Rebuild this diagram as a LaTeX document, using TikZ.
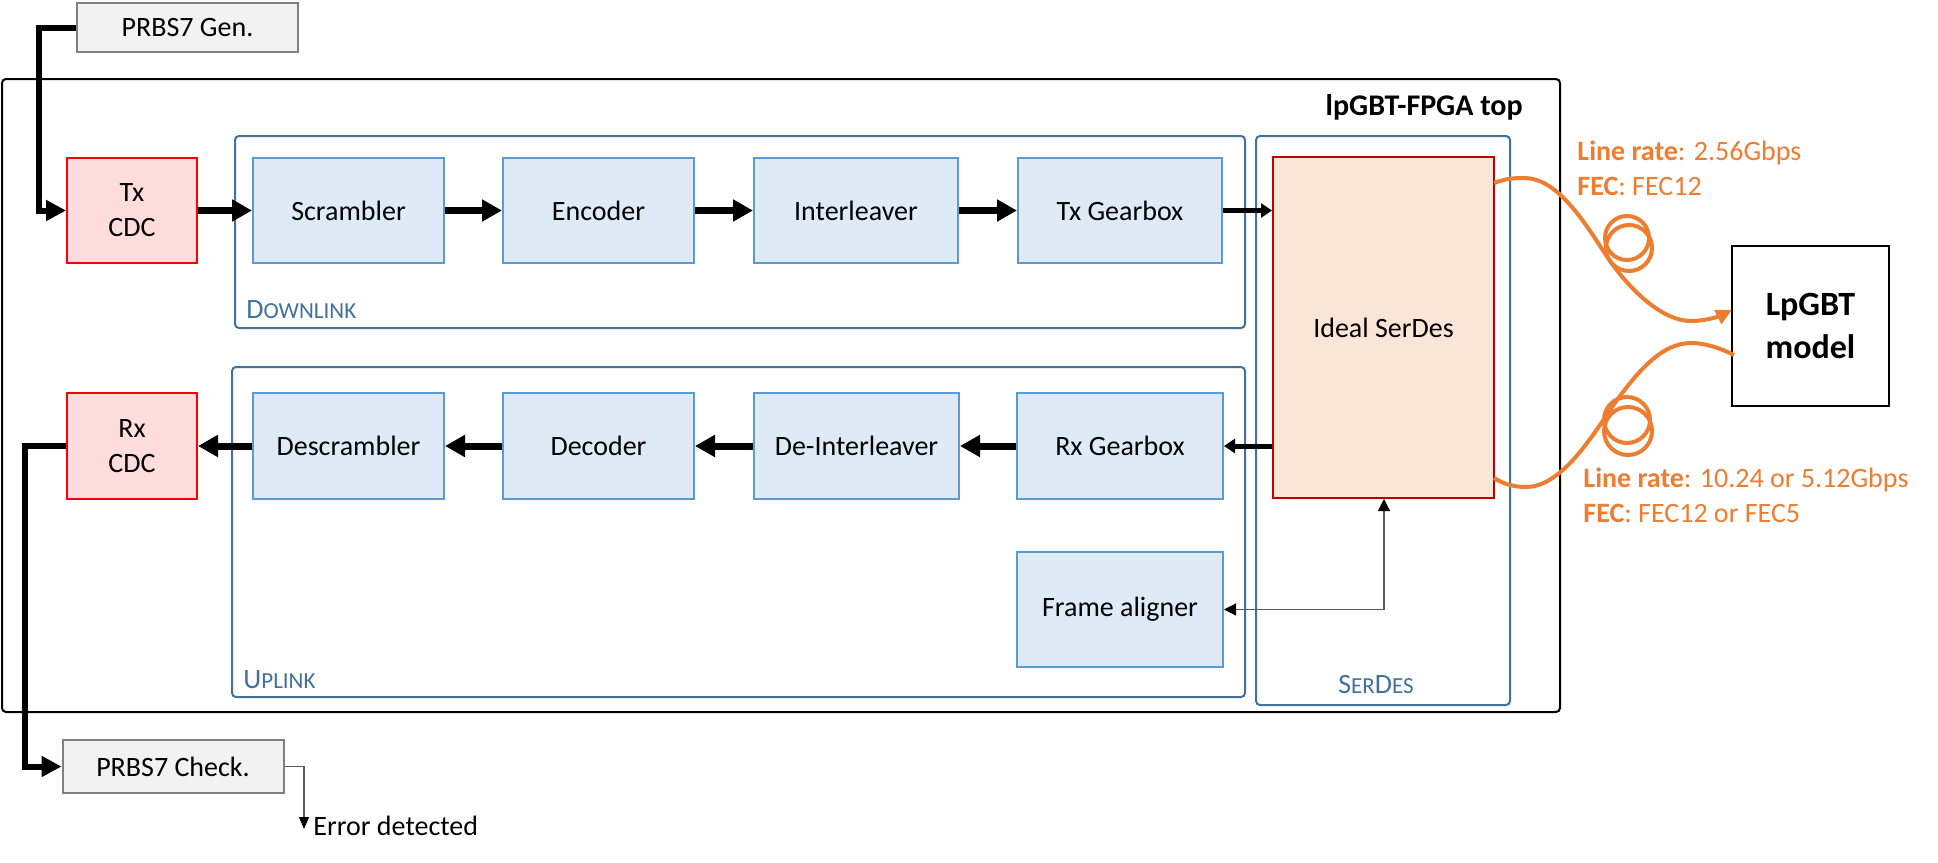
\documentclass[tikz,border=0pt]{standalone}
\usepackage{fontspec}
\setmainfont{Carlito}
\usetikzlibrary{arrows.meta}
\definecolor{blkfill}{HTML}{DEEBF7}
\definecolor{blkdraw}{HTML}{5B9BD5}
\definecolor{contdraw}{HTML}{41719C}
\definecolor{cdcfill}{HTML}{FFDDDD}
\definecolor{cdcdraw}{HTML}{FF0000}
\definecolor{sdfill}{HTML}{FBE5D6}
\definecolor{sddraw}{HTML}{C00000}
\definecolor{prbsfill}{HTML}{F2F2F2}
\definecolor{prbsdraw}{HTML}{808080}
\definecolor{fiber}{HTML}{ED7D31}
\definecolor{thinline}{HTML}{595959}
\newcommand\mysc[1]{{\fontsize{11.5}{12}\selectfont #1}}
\begin{document}
\begin{tikzpicture}[x=0.5pt,y=-0.5pt,
  txt/.style={inner sep=0pt, font=\fontsize{14}{17.5}\selectfont},
  box/.style={txt, align=center, line width=1pt},
  blk/.style={box, draw=blkdraw, fill=blkfill, minimum height=52.5pt},
  cdc/.style={box, draw=cdcdraw, fill=cdcfill, minimum width=65pt, minimum height=52.5pt},
  prbs/.style={box, draw=prbsdraw, fill=prbsfill, minimum width=110.5pt},
  cont/.style={draw=contdraw, line width=1pt, rounded corners=2pt},
  contlabel/.style={txt, text=contdraw},
  big/.style={line width=3.5pt, -{Triangle[length=10pt,width=10.5pt]}},
  bigl/.style={line width=3pt, -{Triangle[length=10pt,width=10pt]}},
  mid/.style={line width=2.5pt, -{Triangle[length=5.5pt,width=7pt]}},
  fib/.style={draw=fiber, line width=2pt},
  orangetxt/.style={txt, text=fiber}
]
\path[fill=white] (0,0) rectangle (1938,862);
\useasboundingbox (0,0) rectangle (1938,862);

% containers
\draw[line width=1pt, rounded corners=2pt] (2,79) rectangle (1560,712);
\draw[cont] (235,136) rectangle (1245,328);
\draw[cont] (232,367) rectangle (1245,697);
\draw[cont] (1256,136) rectangle (1510,705);
\node[txt, font=\fontsize{15}{18}\selectfont\bfseries, anchor=base east] (toplabel) at (1523,115) {lpGBT-FPGA top};
\node[contlabel, anchor=base west] (dllabel) at (246,318) {D\mysc{OWNLINK}};
\node[contlabel, anchor=base west] (ullabel) at (243,688) {U\mysc{PLINK}};
\node[contlabel, anchor=base] (sdlabel) at (1376,693) {S\mysc{ER}D\mysc{ES}};

% blocks
\node[prbs, minimum height=24.5pt] (gen) at (187.5,27.5) {PRBS7 Gen.};
\node[prbs, minimum height=26.5pt] (check) at (173,766.5) {PRBS7 Check.};
\node[cdc] (txcdc) at (132,210.5) {Tx\\CDC};
\node[cdc, minimum height=53pt] (rxcdc) at (132,446) {Rx\\CDC};
\node[blk, minimum width=95.5pt] (scr) at (348.5,210.5) {Scrambler};
\node[blk, minimum width=95.5pt] (enc) at (598.5,210.5) {Encoder};
\node[blk, minimum width=102pt] (intl) at (856,210.5) {Interleaver};
\node[blk, minimum width=102pt] (txg) at (1120,210.5) {Tx Gearbox};
\node[blk, minimum width=95.5pt, minimum height=53pt] (des) at (348.5,446) {Descrambler};
\node[blk, minimum width=95.5pt, minimum height=53pt] (dec) at (598.5,446) {Decoder};
\node[blk, minimum width=102.5pt, minimum height=53pt] (dintl) at (856.5,446) {De-Interleaver};
\node[blk, minimum width=103pt, minimum height=53pt] (rxg) at (1120,446) {Rx Gearbox};
\node[blk, minimum width=103pt, minimum height=57.5pt] (fa) at (1120,609.5) {Frame aligner};
\node[box, draw=sddraw, fill=sdfill, minimum width=110.5pt, minimum height=170.5pt] (serdes) at (1383.5,327.5) {Ideal SerDes};
\node[box, draw=black, minimum width=78.5pt, minimum height=80pt, font=\fontsize{17}{21.5}\selectfont\bfseries] (lpgbt) at (1810.5,325.5) {LpGBT\\model};

% data path arrows
\draw[bigl] (gen.west) -- ++(-37,0) |- (txcdc.west);
\draw[big] (txcdc) -- (scr);
\draw[big] (scr) -- (enc);
\draw[big] (enc) -- (intl);
\draw[big] (intl) -- (txg);
\draw[mid] (txg.east) -- (txg.east -| serdes.west);
\draw[mid] (rxg.east -| serdes.west) -- (rxg.east);
\draw[big] (rxg) -- (dintl);
\draw[big] (dintl) -- (dec);
\draw[big] (dec) -- (des);
\draw[big] (des) -- (rxcdc);
\draw[bigl] (rxcdc.west) -- ++(-41,0) |- (check.west);

% error output
\coordinate (err) at (304,829);
\draw[thinline, line width=0.6pt, -{Triangle[length=6pt,width=5pt,color=black]}] (check.east) -| (err);
\node[txt, anchor=base west] (errtxt) at (313,835) {Error detected};

% frame aligner link
\coordinate (fa1) at (1384,609.5);
\draw[thinline, line width=0.6pt, {Triangle[length=6pt,width=6pt,color=black]}-{Triangle[length=6pt,width=6pt,color=black]}] (fa.east) -- (fa1) -- (fa1 |- serdes.south);

% fibers
\coordinate (f1s) at (1494,183);
\coordinate (f1e) at (1732,310);
\draw[fib, -{Triangle[length=8pt,width=7.5pt]}] (f1s) .. controls (1505,179) and (1512,178) .. (1524,178)
  .. controls (1555,178) and (1580,215) .. (1604,252)
  .. controls (1625,285) and (1660,321) .. (1691,321)
  .. controls (1706,321) and (1720,316) .. (f1e);
\draw[fib] (1627,238) circle (22);
\draw[fib] (1629,248) circle (23);
\coordinate (f2s) at (1734,355);
\coordinate (f2e) at (1494,478);
\draw[fib] (f2s) .. controls (1720,348) and (1705,343) .. (1691,343)
  .. controls (1660,343) and (1635,375) .. (1612,407)
  .. controls (1590,440) and (1560,487) .. (1526,487)
  .. controls (1512,487) and (1502,483) .. (f2e);
\draw[fib] (1627,420) circle (23);
\draw[fib] (1628,431) circle (24);

% fiber labels
\node[orangetxt, anchor=base west] (lr1) at (1577,160) {\textbf{Line rate}: 2.56Gbps};
\node[orangetxt, anchor=base west] (fec1) at (1577,195) {\textbf{FEC}: FEC12};
\node[orangetxt, anchor=base west] (lr2) at (1583,487) {\textbf{Line rate}: 10.24 or 5.12Gbps};
\node[orangetxt, anchor=base west] (fec2) at (1583,522) {\textbf{FEC}: FEC12 or FEC5};
\end{tikzpicture}
\end{document}
